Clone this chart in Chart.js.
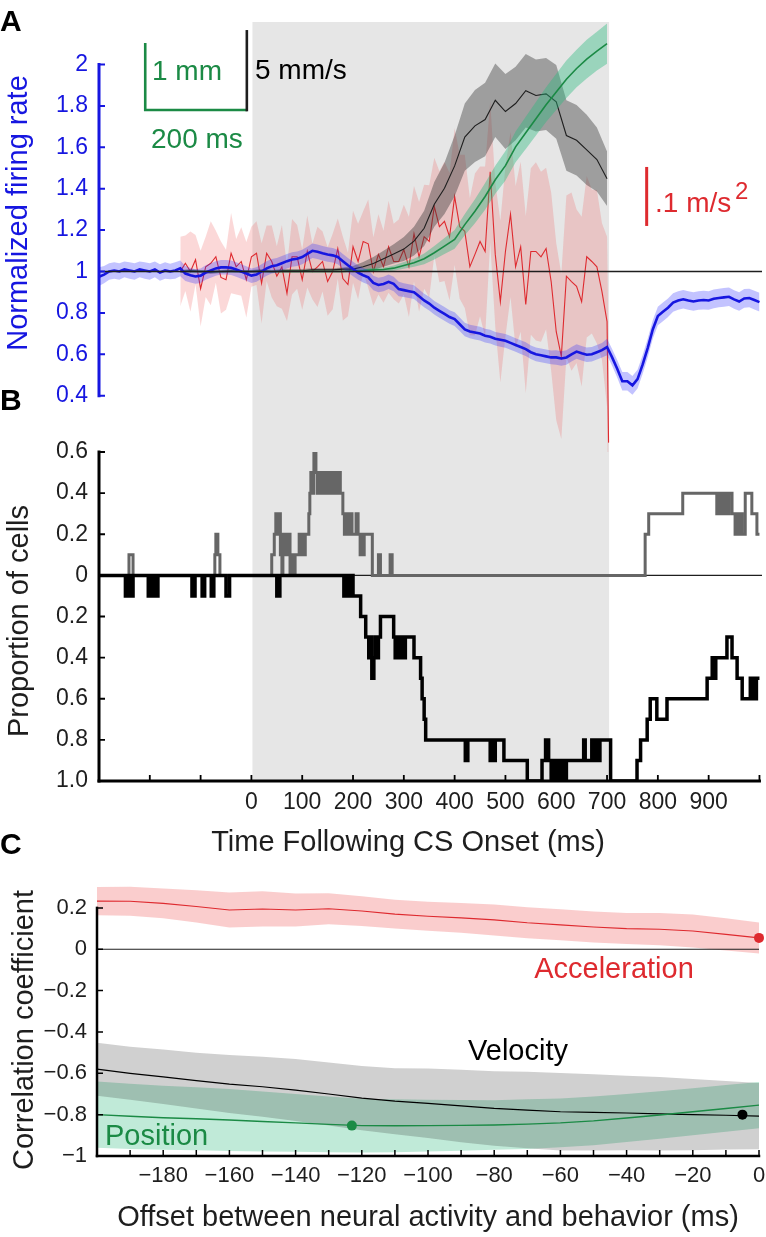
<!DOCTYPE html>
<html>
<head>
<meta charset="UTF-8">
<title>Population activity and eyelid kinematics</title>
<script src="https://cdn.jsdelivr.net/npm/chart.js@4.4.1/dist/chart.umd.min.js"></script>
<style>
  html, body { margin: 0; padding: 0; background: #fff; overflow: hidden; }
  #figure { position: relative; width: 766px; height: 1237px; }
  #figure canvas { position: absolute; left: 0; }
</style>
</head>
<body>
<div id="figure">
  <canvas id="panelA" width="766" height="460" style="top:0px"></canvas>
  <canvas id="panelB" width="766" height="440" style="top:420px"></canvas>
  <canvas id="panelC" width="766" height="377" style="top:860px"></canvas>
</div>
<script>
// sample times in ms
function timeBase(start, stop, step) {
    var out = [];
    for (var t = start; t <= stop; t += step) out.push(t);
    return out;
}

// ---------- panel A: averages aligned on CS onset ----------
var FR_T = timeBase(-300, 1000, 10);
var FR = [
    0.975, 0.985, 1.0, 1.005, 1.0, 1.01, 1.005, 1.0, 1.01, 1.005,
    1.0, 1.01, 0.995, 1.005, 1.0, 1.005, 1.015, 0.99, 0.982, 0.976,
    0.98, 0.995, 1.005, 1.015, 1.02, 1.02, 1.018, 1.01, 1.0, 0.99,
    0.98, 0.985, 1.0, 1.015, 1.025, 1.03, 1.04, 1.05, 1.058, 1.062,
    1.07, 1.085, 1.10, 1.095, 1.088, 1.082, 1.078, 1.07, 1.05, 1.03,
    1.012, 0.995, 0.982, 0.972, 0.945, 0.935, 0.94, 0.95, 0.94, 0.915,
    0.91, 0.905, 0.90, 0.88, 0.86, 0.845, 0.825, 0.81, 0.795, 0.78,
    0.77, 0.745, 0.72, 0.71, 0.705, 0.70, 0.69, 0.685, 0.675, 0.67,
    0.665, 0.655, 0.645, 0.635, 0.625, 0.61, 0.60, 0.595, 0.59, 0.585,
    0.585, 0.58, 0.585, 0.60, 0.613, 0.605, 0.598, 0.60, 0.61, 0.62,
    0.635, 0.585, 0.53, 0.47, 0.47, 0.45, 0.48, 0.55, 0.63, 0.72,
    0.785, 0.805, 0.825, 0.85, 0.86, 0.866, 0.86, 0.855, 0.86, 0.862,
    0.86, 0.868, 0.872, 0.875, 0.878, 0.865, 0.855, 0.87, 0.872, 0.862,
    0.852
];
var FR_SEM = [
    0.045, 0.042, 0.04, 0.04, 0.04, 0.038, 0.04, 0.04, 0.038, 0.04,
    0.04, 0.038, 0.04, 0.04, 0.038, 0.04, 0.038, 0.036, 0.035, 0.035,
    0.035, 0.035, 0.035, 0.035, 0.035, 0.035, 0.035, 0.035, 0.035, 0.035,
    0.035, 0.035, 0.035, 0.035, 0.035, 0.035, 0.035, 0.035, 0.035, 0.035,
    0.035, 0.035, 0.035, 0.035, 0.035, 0.035, 0.035, 0.035, 0.035, 0.035,
    0.035, 0.035, 0.035, 0.035, 0.035, 0.035, 0.035, 0.035, 0.035, 0.035,
    0.033, 0.033, 0.033, 0.033, 0.033, 0.033, 0.033, 0.033, 0.033, 0.033,
    0.033, 0.033, 0.033, 0.033, 0.033, 0.033, 0.033, 0.033, 0.033, 0.033,
    0.033, 0.033, 0.033, 0.033, 0.033, 0.033, 0.033, 0.033, 0.033, 0.033,
    0.035, 0.035, 0.035, 0.035, 0.035, 0.035, 0.035, 0.035, 0.035, 0.035,
    0.04, 0.04, 0.042, 0.045, 0.045, 0.045, 0.045, 0.045, 0.045, 0.045,
    0.045, 0.045, 0.045, 0.045, 0.045, 0.045, 0.045, 0.045, 0.045, 0.045,
    0.045, 0.045, 0.045, 0.045, 0.045, 0.045, 0.045, 0.045, 0.045, 0.045,
    0.045
];

// eyelid acceleration (m/s^2)
var ACC_T = timeBase(-140, 700, 10).concat([703]);
var ACC = [
    0, 0.014, 0, 0.020, -0.029, 0.008, 0.014, 0.025, -0.010, -0.014,
    0.031, 0.008, 0.017, -0.014, 0.025, 0.031, -0.020, 0.031, 0.017, -0.008,
    0.008, -0.037, 0.025, 0.025, -0.014, 0.034, 0, 0.008, 0.017, -0.017,
    0, 0.039, -0.012, -0.022, 0.042, 0.017, 0.051, 0.047, 0, 0.029,
    0.008, 0.042, 0.017, 0.017, 0.037, 0.008, 0.064, 0.025, 0.059, 0.051,
    0.110, 0.076, 0.085, 0.059, 0.127, 0.076, 0.068, 0.008, 0.029, 0.051,
    0.034, 0.169, 0.029, -0.051, 0.034, 0.097, 0.008, 0.042, -0.056, 0.034,
    0.034, 0.025, 0.039, -0.017, -0.102, -0.144, -0.008, -0.017, -0.025, -0.051,
    0.025, 0.017, 0.008, -0.034, -0.085,
    -0.290
];
var ACC_SEM = [
    0.059, 0.047, 0.068, 0.042, 0.064, 0.051, 0.071, 0.044, 0.061, 0.051,
    0.068, 0.047, 0.058, 0.064, 0.051, 0.054, 0.068, 0.047, 0.061, 0.051,
    0.071, 0.047, 0.064, 0.054, 0.051, 0.061, 0.047, 0.068, 0.051, 0.058,
    0.064, 0.051, 0.071, 0.054, 0.061, 0.064, 0.051, 0.075, 0.058, 0.068,
    0.061, 0.078, 0.064, 0.071, 0.076, 0.085, 0.081, 0.093, 0.088, 0.095,
    0.083, 0.094, 0.101, 0.108, 0.116, 0.122, 0.130, 0.116, 0.137, 0.127,
    0.144, 0.120, 0.122, 0.137, 0.144, 0.140, 0.137, 0.144, 0.150, 0.141,
    0.151, 0.144, 0.137, 0.151, 0.150, 0.140, 0.137, 0.151, 0.130, 0.144,
    0.137, 0.122, 0.130, 0.116, 0.144,
    0.170
];

// eyelid velocity (mm/s) and position (mm)
var BEH_T = timeBase(-140, 700, 20);
var VEL = [
    0, 0.05, 0, -0.05, 0, 0.05, 0, 0, 0.05, 0,
    0.05, 0.05, 0.05, 0.1, 0.1, 0.1, 0.15, 0.15, 0.3, 0.5,
    0.8, 1.1, 1.4, 1.9, 2.7, 4.2, 5.2, 6.6, 8.4, 9.1,
    9.5, 10.7, 10.0, 10.5, 11.3, 11.0, 11.1, 10.6, 8.5, 8.2,
    7.6, 7.0, 5.8
];
var VEL_SEM = [
    0.1, 0.1, 0.1, 0.1, 0.1, 0.1, 0.1, 0.1, 0.1, 0.1,
    0.1, 0.1, 0.1, 0.1, 0.1, 0.1, 0.1, 0.2, 0.3, 0.4,
    0.5, 0.6, 0.75, 0.9, 1.1, 1.4, 1.6, 1.9, 2.1, 2.25,
    2.3, 2.3, 2.35, 2.3, 2.3, 2.25, 2.25, 2.3, 2.2, 2.2,
    2.2, 2.0, 1.7
];
var POS = [
    0, 0, 0, 0, 0, 0, 0, 0, 0, 0,
    0, 0, 0, 0, 0, 0, 0, 0.01, 0.015, 0.025,
    0.03, 0.05, 0.09, 0.13, 0.19, 0.28, 0.38, 0.48, 0.70, 0.90,
    1.12, 1.37, 1.58, 1.86, 2.07, 2.28, 2.49, 2.68, 2.87, 3.03,
    3.17, 3.29, 3.40
];
var POS_SEM = [
    0.01, 0.01, 0.01, 0.01, 0.01, 0.01, 0.01, 0.01, 0.01, 0.01,
    0.01, 0.01, 0.01, 0.01, 0.01, 0.01, 0.01, 0.02, 0.02, 0.03,
    0.03, 0.04, 0.05, 0.06, 0.08, 0.1, 0.12, 0.14, 0.16, 0.18,
    0.2, 0.21, 0.22, 0.23, 0.24, 0.25, 0.26, 0.27, 0.28, 0.28,
    0.29, 0.29, 0.3
];
var CS_WINDOW = [2, 704];
var FR_TICKS = [0.4, 0.6, 0.8, 1, 1.2, 1.4, 1.6, 1.8, 2];

// ---------- panel B: proportion of cells (change points) ----------
var INC_T = [-300, -241, -233, -72, -70, -66, -62, 40, 45, 48, 52, 54, 57, 60, 62, 66, 68, 72, 74, 76,
    78, 80, 82, 84, 86, 94, 98, 100, 104, 106, 113, 115, 117, 120, 123, 127, 130, 132, 135, 138,
    141, 144, 147, 150, 153, 156, 160, 163, 166, 170, 175, 180, 183, 186, 190, 194, 198, 206, 210, 214,
    216, 220, 222, 238, 250, 254, 273, 277, 775, 782, 849, 916, 920, 925, 930, 935, 940, 946, 952, 955,
    958, 962, 966, 972, 985, 995, 1000];
var INC = [0, 0.1, 0, 0.1, 0.2, 0.1, 0, 0.1, 0.2, 0.3, 0.2, 0.3, 0.1, 0, 0.2, 0.1, 0.2, 0.1, 0.2, 0,
    0.1, 0, 0.1, 0, 0.1, 0.2, 0.1, 0.2, 0.1, 0.2, 0.3, 0.4, 0.5, 0.4, 0.6, 0.5, 0.4, 0.5, 0.4, 0.5,
    0.4, 0.5, 0.4, 0.5, 0.4, 0.5, 0.4, 0.5, 0.4, 0.5, 0.4, 0.3, 0.2, 0.3, 0.2, 0.3, 0.2, 0.3, 0.2, 0.1,
    0.2, 0.1, 0.2, 0, 0.1, 0, 0.1, 0, 0.2, 0.3, 0.4, 0.3, 0.4, 0.3, 0.4, 0.3, 0.4, 0.3, 0.2, 0.3,
    0.2, 0.3, 0.2, 0.4, 0.3, 0.2, 0.2];
var DEC_T = [-300, -248, -246, -244, -242, -240, -237, -235, -233, -203, -200, -198, -195, -192, -189, -187, -184,
    -117, -111, -97, -92, -79, -74, -50, -43, 50, 56,
    182, 185, 188, 191, 194, 197, 200, 215, 225, 231, 234, 237, 241, 244, 247, 250, 254, 280, 283, 287,
    290, 294, 297, 303, 320, 333, 336, 340, 343, 421, 426, 470, 473, 476, 480, 497, 543, 572, 579, 585,
    590, 594, 598, 603, 607, 612, 616, 620, 654, 657, 670, 675, 678, 682, 686, 707, 759, 766, 779, 785,
    798, 818, 897, 907, 911, 914, 936, 946, 956, 966, 982, 988, 994, 1000];
var DEC = [0, 0.1, 0, 0.1, 0, 0.1, 0, 0.1, 0, 0.1, 0, 0.1, 0, 0.1, 0, 0.1, 0,
    0.1, 0, 0.1, 0, 0.1, 0, 0.1, 0, 0.1, 0,
    0.1, 0, 0.1, 0, 0.1, 0, 0.1, 0.2, 0.3, 0.4, 0.3, 0.5, 0.4, 0.3, 0.4, 0.3, 0.2, 0.3, 0.4, 0.3,
    0.4, 0.3, 0.4, 0.3, 0.4, 0.5, 0.6, 0.7, 0.8, 0.9, 0.8, 0.9, 0.8, 0.9, 0.8, 0.9, 1.0, 0.9, 0.8, 0.9,
    1.0, 0.9, 1.0, 0.9, 1.0, 0.9, 1.0, 0.9, 0.8, 0.9, 0.8, 0.9, 0.8, 0.9, 0.8, 1.0, 0.9, 0.8, 0.7, 0.6,
    0.7, 0.6, 0.5, 0.4, 0.5, 0.4, 0.3, 0.4, 0.5, 0.6, 0.5, 0.6, 0.5, 0.5];
var B_XTICKS = [-300, -200, -100, 0, 100, 200, 300, 400, 500, 600, 700, 800, 900, 1000];
var B_YTICKS = [-1, -0.8, -0.6, -0.4, -0.2, 0, 0.2, 0.4, 0.6];

// ---------- panel C: correlation vs. lag ----------
var LAG = timeBase(-200, 0, 10);
var R_ACC = [0.233, 0.232, 0.222, 0.207, 0.190, 0.195, 0.190, 0.196, 0.185, 0.170, 0.160,
    0.152, 0.142, 0.128, 0.118, 0.108, 0.100, 0.097, 0.088, 0.072, 0.055];
var R_ACC_SEM = [0.068, 0.07, 0.072, 0.078, 0.085, 0.085, 0.08, 0.075, 0.072, 0.07, 0.07,
    0.072, 0.075, 0.075, 0.075, 0.075, 0.075, 0.078, 0.08, 0.078, 0.075];
var R_VEL = [-0.58, -0.60, -0.617, -0.635, -0.652, -0.665, -0.681, -0.70, -0.72, -0.735, -0.745,
    -0.758, -0.77, -0.778, -0.786, -0.789, -0.792, -0.796, -0.80, -0.803, -0.807];
var R_VEL_SEM = [0.128, 0.128, 0.132, 0.135, 0.14, 0.145, 0.15, 0.152, 0.155, 0.16, 0.168,
    0.175, 0.18, 0.185, 0.188, 0.185, 0.18, 0.178, 0.172, 0.166, 0.16];
var R_POS = [-0.80, -0.808, -0.815, -0.82, -0.826, -0.833, -0.84, -0.847, -0.853, -0.854, -0.853,
    -0.852, -0.85, -0.846, -0.84, -0.83, -0.816, -0.802, -0.786, -0.77, -0.754];
var R_POS_SEM = [0.16, 0.158, 0.155, 0.152, 0.15, 0.145, 0.14, 0.135, 0.13, 0.128, 0.125,
    0.123, 0.12, 0.12, 0.118, 0.118, 0.116, 0.115, 0.114, 0.113, 0.112];
var PEAK_LAG = [0, -5, -123];
var PEAK_R = [0.055, -0.80, -0.853];
var C_XTICKS = timeBase(-200, 0, 10);
var C_YTICKS = [-1, -0.8, -0.6, -0.4, -0.2, 0, 0.2];

// ---------- styling ----------
var BLUE = '#1616e0', RED = '#de2a2f', GREEN = '#1b8a45', INK = '#1e1e1e';
var FONT = '"Liberation Sans", Arial, Helvetica, sans-serif';
var noGrid = { display: false, drawTicks: false };

function line(xs, ys, color, width, axis, extra) {
    var ds = {
        data: xs.map(function (x, i) { return { x: x, y: ys[i] }; }),
        borderColor: color, borderWidth: width, pointRadius: 0, fill: false,
        yAxisID: axis || 'y'
    };
    return Object.assign(ds, extra || {});
}

function band(xs, ys, sem, color, axis) {
    var clear = 'rgba(0,0,0,0)';
    return [
        { data: xs.map(function (x, i) { return { x: x, y: ys[i] + sem[i] }; }),
          borderColor: clear, borderWidth: 0, pointRadius: 0, backgroundColor: color, fill: '+1', yAxisID: axis || 'y' },
        { data: xs.map(function (x, i) { return { x: x, y: ys[i] - sem[i] }; }),
          borderColor: clear, borderWidth: 0, pointRadius: 0, fill: false, yAxisID: axis || 'y' }
    ];
}

function setTicks(list) {
    return function (scale) { scale.ticks = list.map(function (v) { return { value: v }; }); };
}

// fixed axis box, and no label overflow padding so chart areas line up
function fixBox(size) {
    return function (scale) {
        if (scale.isHorizontal()) scale.height = size; else scale.width = size;
        scale.paddingLeft = scale.paddingRight = scale.paddingTop = scale.paddingBottom = 0;
    };
}

function plain(v) {
    return String(parseFloat(v.toFixed(1))).replace('-', '\u2212');
}

function shadePlugin(win, color) {
    return {
        id: 'shade',
        beforeDatasetsDraw: function (chart) {
            var a = chart.chartArea, x = chart.scales.x, ctx = chart.ctx;
            var x0 = x.getPixelForValue(win[0]), x1 = x.getPixelForValue(win[1]);
            ctx.save();
            ctx.fillStyle = color;
            ctx.fillRect(x0, a.top, x1 - x0, a.bottom - a.top);
            ctx.restore();
        }
    };
}

// axis lines that only span part of the chart area, ticks pointing inward
function framePlugin(axes) {
    return {
        id: 'frame',
        afterDatasetsDraw: function (chart) {
            var a = chart.chartArea, ctx = chart.ctx;
            axes.forEach(function (ax) {
                var s = chart.scales[ax.scale];
                var horiz = s.isHorizontal();
                ctx.save();
                ctx.strokeStyle = ax.color;
                ctx.lineWidth = ax.width;
                ctx.lineCap = 'square';
                ctx.beginPath();
                if (horiz) {
                    ctx.moveTo(s.getPixelForValue(ax.from), a.bottom);
                    ctx.lineTo(s.getPixelForValue(ax.to), a.bottom);
                } else {
                    ctx.moveTo(a.left, s.getPixelForValue(ax.from));
                    ctx.lineTo(a.left, s.getPixelForValue(ax.to));
                }
                ctx.stroke();
                ctx.lineCap = 'butt';
                ctx.lineWidth = ax.tickWidth;
                ctx.beginPath();
                ax.ticks.forEach(function (v) {
                    if (ax.corner && v === ax.from) return;
                    var p = s.getPixelForValue(v);
                    if (horiz) { ctx.moveTo(p, a.bottom); ctx.lineTo(p, a.bottom - ax.tick); }
                    else { ctx.moveTo(a.left, p); ctx.lineTo(a.left + ax.tick, p); }
                });
                ctx.stroke();
                ctx.restore();
            });
        }
    };
}

function notesPlugin(items) {
    return {
        id: 'notes',
        afterDraw: function (chart) {
            var ctx = chart.ctx;
            items.forEach(function (n) {
                ctx.save();
                ctx.font = (n.bold ? 'bold ' : '') + n.size + 'px ' + FONT;
                ctx.fillStyle = n.color || INK;
                ctx.textAlign = n.align || 'left';
                ctx.textBaseline = 'alphabetic';
                ctx.translate(n.x, n.y);
                if (n.vertical) ctx.rotate(-Math.PI / 2);
                ctx.fillText(n.text, 0, 0);
                ctx.restore();
            });
        }
    };
}

// calibration bars: 1 mm, 5 mm/s, 200 ms, 0.1 m/s^2
var BAR = { t: -9, fr: 1.78, ms: 200, mm: 1, vel: 5, accT: 778, accFr: 1.22, acc: 0.1 };
var scaleBarPlugin = {
    id: 'scaleBars',
    afterDatasetsDraw: function (chart) {
        var s = chart.scales, ctx = chart.ctx;
        var cx = s.x.getPixelForValue(BAR.t), cy = s.y.getPixelForValue(BAR.fr);
        var hLen = s.x.getPixelForValue(BAR.ms) - s.x.getPixelForValue(0);
        var posLen = s.yPos.getPixelForValue(0) - s.yPos.getPixelForValue(BAR.mm);
        var velLen = s.yVel.getPixelForValue(0) - s.yVel.getPixelForValue(BAR.vel);
        var ax = s.x.getPixelForValue(BAR.accT), ay = s.y.getPixelForValue(BAR.accFr);
        var accLen = s.yAcc.getPixelForValue(0) - s.yAcc.getPixelForValue(BAR.acc);
        ctx.save();
        ctx.lineWidth = 2.6;
        ctx.strokeStyle = GREEN;
        ctx.beginPath();
        ctx.moveTo(cx - hLen, cy - posLen);
        ctx.lineTo(cx - hLen, cy);
        ctx.lineTo(cx, cy);
        ctx.stroke();
        ctx.strokeStyle = INK;
        ctx.beginPath();
        ctx.moveTo(cx, cy + 1.3);
        ctx.lineTo(cx, cy - velLen);
        ctx.stroke();
        ctx.strokeStyle = RED;
        ctx.lineWidth = 3;
        ctx.beginPath();
        ctx.moveTo(ax, ay);
        ctx.lineTo(ax, ay - accLen);
        ctx.stroke();
        ctx.restore();
    }
};

var common = {
    responsive: false,
    animation: false,
    events: [],
    plugins: { legend: { display: false }, tooltip: { enabled: false } }
};

// ---------- panel A ----------
new Chart(document.getElementById('panelA'), {
    type: 'line',
    data: {
        datasets: [
            line([-300, 1005], [1, 1], INK, 1.3),
            line(FR_T, FR, BLUE, 2.6)
        ].concat(
            band(FR_T, FR, FR_SEM, 'rgba(40,40,255,0.28)'),
            [line(BEH_T, POS, GREEN, 1.6, 'yPos')],
            band(BEH_T, POS, POS_SEM, 'rgba(40,185,125,0.4)', 'yPos'),
            [line(BEH_T, VEL, INK, 1.1, 'yVel')],
            band(BEH_T, VEL, VEL_SEM, 'rgba(60,60,60,0.42)', 'yVel'),
            [line(ACC_T, ACC, RED, 1.1, 'yAcc')],
            band(ACC_T, ACC, ACC_SEM, 'rgba(240,90,90,0.24)', 'yAcc')
        )
    },
    options: Object.assign({}, common, {
        layout: { autoPadding: false, padding: { top: 22, right: 4, bottom: 8, left: 0 } },
        scales: {
            x: { type: 'linear', min: -300, max: 1005, display: false },
            y: {
                position: 'left', min: 0.128, max: 2.2053,
                afterFit: fixBox(99), afterBuildTicks: setTicks(FR_TICKS),
                grid: noGrid, border: { display: false },
                ticks: { padding: 11, color: BLUE, font: { family: FONT, size: 23 }, callback: plain }
            },
            yVel: { display: false, min: -11.281, max: 15.594 },
            yPos: { display: false, min: -2.694, max: 3.724 },
            yAcc: { display: false, min: -0.3059, max: 0.4229 }
        }
    }),
    plugins: [
        shadePlugin(CS_WINDOW, '#e6e6e6'),
        framePlugin([{ scale: 'y', from: 0.4, to: 2, ticks: FR_TICKS, color: BLUE, width: 3, tick: 6, tickWidth: 2 }]),
        scaleBarPlugin,
        notesPlugin([
            { text: 'A', x: 0, y: 31, size: 30, bold: true, color: '#000' },
            { text: 'B', x: 0, y: 410, size: 30, bold: true, color: '#000' },
            { text: 'Normalized firing rate', x: 27, y: 213, size: 29, color: BLUE, vertical: true, align: 'center' },
            { text: '1 mm', x: 152, y: 80, size: 28, color: GREEN },
            { text: '5 mm/s', x: 255, y: 79, size: 28, color: '#000' },
            { text: '200 ms', x: 151, y: 148, size: 28, color: GREEN },
            { text: '.1 m/s', x: 655, y: 212, size: 28, color: RED },
            { text: '2', x: 735, y: 199, size: 24, color: RED }
        ])
    ]
});

// ---------- panel B ----------
new Chart(document.getElementById('panelB'), {
    type: 'line',
    data: {
        datasets: [
            line(DEC_T, DEC.map(function (v) { return -v; }), '#000', 3.5, 'y', { stepped: true }),
            line(INC_T, INC, '#666666', 3, 'y', { stepped: true }),
            line([-300, 1005], [0, 0], INK, 1.2)
        ]
    },
    options: Object.assign({}, common, {
        layout: { autoPadding: false, padding: { top: 32, right: 4, bottom: 0, left: 0 } },
        scales: {
            x: {
                type: 'linear', min: -300, max: 1005,
                afterFit: fixBox(79), afterBuildTicks: setTicks(B_XTICKS),
                grid: noGrid, border: { display: false },
                ticks: {
                    autoSkip: false, maxRotation: 0, padding: 8, color: INK,
                    font: { family: FONT, size: 23 },
                    callback: function (v) { return (v >= 0 && v <= 900) ? String(v) : ''; }
                }
            },
            y: {
                min: -1, max: 0.6,
                afterFit: fixBox(99), afterBuildTicks: setTicks(B_YTICKS),
                grid: noGrid, border: { display: false },
                ticks: {
                    padding: 11, color: INK, font: { family: FONT, size: 23 },
                    callback: function (v) { return v === 0 ? '0' : Math.abs(v).toFixed(1); }
                }
            }
        }
    }),
    plugins: [
        shadePlugin(CS_WINDOW, '#e6e6e6'),
        framePlugin([
            { scale: 'x', from: -300, to: 1000, ticks: B_XTICKS, corner: true, color: '#000', width: 3, tick: 6, tickWidth: 1.8 },
            { scale: 'y', from: -1, to: 0.6, ticks: B_YTICKS, corner: true, color: '#000', width: 3, tick: 6, tickWidth: 1.8 }
        ]),
        notesPlugin([
            { text: 'Proportion of cells', x: 28, y: 201, size: 29, vertical: true, align: 'center' },
            { text: 'Time Following CS Onset (ms)', x: 408, y: 431, size: 29, align: 'center' },
            { text: 'C', x: 0, y: 434, size: 30, bold: true, color: '#000' }
        ])
    ]
});

// ---------- panel C ----------
new Chart(document.getElementById('panelC'), {
    type: 'line',
    data: {
        datasets: [
            line(PEAK_LAG, PEAK_R, 'rgba(0,0,0,0)', 0, 'y', {
                showLine: false, pointRadius: 5, pointBorderWidth: 0, clip: false,
                pointBackgroundColor: [RED, '#000', GREEN], pointBorderColor: [RED, '#000', GREEN]
            }),
            line([-200, 0], [0, 0], INK, 1.2),
            line(LAG, R_POS, GREEN, 1.4),
            line(LAG, R_VEL, '#000', 1.2),
            line(LAG, R_ACC, RED, 1.1)
        ].concat(
            band(LAG, R_VEL, R_VEL_SEM, 'rgba(20,20,20,0.2)'),
            band(LAG, R_POS, R_POS_SEM, 'rgba(45,185,125,0.3)'),
            band(LAG, R_ACC, R_ACC_SEM, 'rgba(240,90,90,0.3)')
        )
    },
    options: Object.assign({}, common, {
        layout: { autoPadding: false, padding: { top: 20, right: 7, bottom: 0, left: 0 } },
        scales: {
            x: {
                type: 'linear', min: -200, max: 0,
                afterFit: fixBox(81), afterBuildTicks: setTicks(C_XTICKS),
                grid: noGrid, border: { display: false },
                ticks: {
                    autoSkip: false, maxRotation: 0, padding: 7, color: INK,
                    font: { family: FONT, size: 22 },
                    callback: function (v) { return (v % 20 === 0 && v !== -200) ? plain(v) : ''; }
                }
            },
            y: {
                min: -1, max: 0.335,
                afterFit: fixBox(97), afterBuildTicks: setTicks(C_YTICKS),
                grid: noGrid, border: { display: false },
                ticks: { padding: 10, color: INK, font: { family: FONT, size: 22 }, callback: plain }
            }
        }
    }),
    plugins: [
        framePlugin([
            { scale: 'x', from: -200, to: 0, ticks: C_XTICKS, corner: true, color: '#000', width: 2.5, tick: 6, tickWidth: 1.5 },
            { scale: 'y', from: -1, to: 0.2, ticks: C_YTICKS, corner: true, color: '#000', width: 2.5, tick: 6, tickWidth: 1.5 }
        ]),
        notesPlugin([
            { text: 'Correlation coefficient', x: 33, y: 170, size: 29, vertical: true, align: 'center' },
            { text: 'Offset between neural activity and behavior (ms)', x: 428, y: 366, size: 29, align: 'center' },
            { text: 'Acceleration', x: 614, y: 118, size: 29, color: RED, align: 'center' },
            { text: 'Velocity', x: 518, y: 200, size: 29, color: '#000', align: 'center' },
            { text: 'Position', x: 105, y: 285, size: 29, color: GREEN }
        ])
    ]
});
</script>
</body>
</html>
